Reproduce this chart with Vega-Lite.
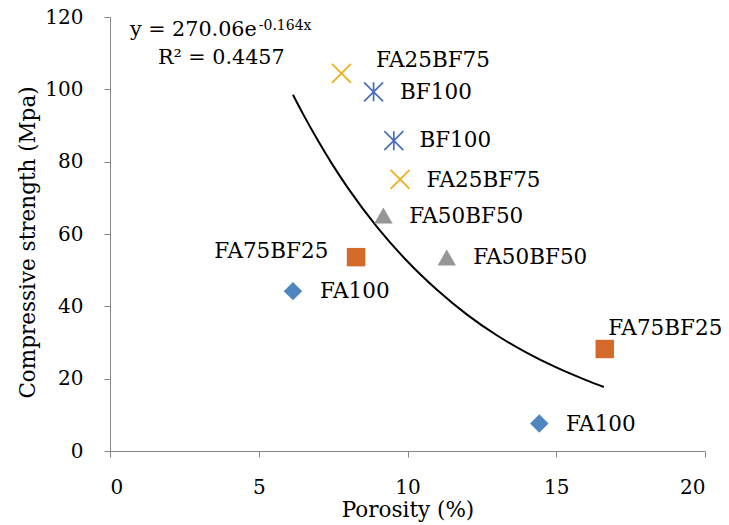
{
  "$schema": "https://vega.github.io/schema/vega-lite/v6.json",
  "width": 595,
  "height": 434,
  "autosize": {"type": "none"},
  "padding": {"left": 110, "top": 17, "right": 24, "bottom": 74},
  "background": "white",
  "datasets": {
    "pts": [
      {"series": "FA100", "porosity": 6.15, "strength": 44.2, "lx": 7.06, "ly": 44.0},
      {"series": "FA100", "porosity": 14.43, "strength": 7.6, "lx": 15.33, "ly": 7.2},
      {"series": "FA75BF25", "porosity": 8.27, "strength": 53.6, "lx": 7.34, "ly": 55.1},
      {"series": "FA75BF25", "porosity": 16.63, "strength": 28.2, "lx": 16.75, "ly": 33.7},
      {"series": "FA50BF50", "porosity": 9.19, "strength": 65.1, "lx": 10.06, "ly": 64.8},
      {"series": "FA50BF50", "porosity": 11.32, "strength": 53.5, "lx": 12.21, "ly": 53.3},
      {"series": "FA25BF75", "porosity": 7.78, "strength": 104.4, "lx": 8.94, "ly": 107.8},
      {"series": "FA25BF75", "porosity": 9.75, "strength": 75.1, "lx": 10.64, "ly": 74.7},
      {"series": "BF100", "porosity": 8.86, "strength": 99.3, "lx": 9.75, "ly": 99.1},
      {"series": "BF100", "porosity": 9.54, "strength": 85.8, "lx": 10.4, "ly": 85.8}
    ],
    "trend": [
      {"porosity": 6.15, "strength": 98.5},
      {"porosity": 6.5, "strength": 93.0},
      {"porosity": 7, "strength": 85.7},
      {"porosity": 7.5, "strength": 78.9},
      {"porosity": 8, "strength": 72.7},
      {"porosity": 9, "strength": 61.7},
      {"porosity": 10, "strength": 52.4},
      {"porosity": 11, "strength": 44.5},
      {"porosity": 12, "strength": 37.7},
      {"porosity": 13, "strength": 32.0},
      {"porosity": 14, "strength": 27.2},
      {"porosity": 15, "strength": 23.1},
      {"porosity": 16, "strength": 19.6},
      {"porosity": 16.6, "strength": 17.7}
    ],
    "notes": [
      {"text": "y = 270.06e", "porosity": 0.67, "strength": 116.5, "kind": "main"},
      {"text": "-0.164x", "porosity": 5.0, "strength": 117.6, "kind": "sup"},
      {"text": "R² = 0.4457", "porosity": 1.61, "strength": 108.6, "kind": "main"}
    ]
  },
  "config": {
    "view": {"stroke": null},
    "axis": {
      "grid": false,
      "domainColor": "#868686",
      "tickColor": "#868686",
      "tickSize": 6,
      "labelFont": "DejaVu Serif",
      "labelFontSize": 20,
      "labelColor": "#000000",
      "titleFont": "DejaVu Serif",
      "titleFontWeight": "normal",
      "titleColor": "#000000",
      "titleFontSize": 21.5
    },
    "axisX": {"labelPadding": 20, "titlePadding": 2},
    "axisY": {"labelPadding": 21, "titlePadding": 5, "titleY": 225}
  },
  "layer": [
    {
      "data": {"name": "trend"},
      "mark": {"type": "line", "color": "#000000", "strokeWidth": 2, "interpolate": "monotone"},
      "encoding": {
        "x": {"field": "porosity", "type": "quantitative", "scale": {"domain": [0, 20], "nice": false}, "axis": {"values": [0, 5, 10, 15, 20], "title": "Porosity (%)"}},
        "y": {"field": "strength", "type": "quantitative", "scale": {"domain": [0, 120], "nice": false}, "axis": {"values": [0, 20, 40, 60, 80, 100, 120], "title": "Compressive strength (Mpa)"}}
      }
    },
    {
      "data": {"name": "pts"},
      "transform": [{"filter": "indexof(['FA100','FA75BF25','FA50BF50'], datum.series) >= 0"}],
      "mark": {"type": "point", "filled": true, "opacity": 1, "size": 340},
      "encoding": {
        "x": {"field": "porosity", "type": "quantitative", "title": "Porosity (%)"},
        "y": {"field": "strength", "type": "quantitative", "title": "Compressive strength (Mpa)"},
        "color": {"field": "series", "type": "nominal", "legend": null, "scale": {"domain": ["FA100", "FA75BF25", "FA50BF50", "FA25BF75", "BF100"], "range": ["#4F86C0", "#D46A2A", "#969696", "#EAB01A", "#4A6FB8"]}},
        "shape": {"field": "series", "type": "nominal", "legend": null, "scale": {"domain": ["FA100", "FA75BF25", "FA50BF50", "FA25BF75", "BF100"], "range": ["diamond", "square", "triangle-up", "M-1,-1L1,1M1,-1L-1,1", "M-1,-1L1,1M1,-1L-1,1M0,-1L0,1"]}}
      }
    },
    {
      "data": {"name": "pts"},
      "transform": [{"filter": "indexof(['FA25BF75','BF100'], datum.series) >= 0"}],
      "mark": {"type": "point", "filled": false, "opacity": 1, "size": 361, "strokeWidth": 1.75},
      "encoding": {
        "x": {"field": "porosity", "type": "quantitative", "title": "Porosity (%)"},
        "y": {"field": "strength", "type": "quantitative", "title": "Compressive strength (Mpa)"},
        "color": {"field": "series", "type": "nominal", "legend": null},
        "shape": {"field": "series", "type": "nominal", "legend": null}
      }
    },
    {
      "data": {"name": "pts"},
      "transform": [{"filter": "datum.lx > datum.porosity"}],
      "mark": {"type": "text", "align": "left", "baseline": "middle", "font": "DejaVu Serif", "fontSize": 21.5, "color": "#000000"},
      "encoding": {
        "x": {"field": "lx", "type": "quantitative", "title": "Porosity (%)"},
        "y": {"field": "ly", "type": "quantitative", "title": "Compressive strength (Mpa)"},
        "text": {"field": "series"}
      }
    },
    {
      "data": {"name": "pts"},
      "transform": [{"filter": "datum.lx < datum.porosity"}],
      "mark": {"type": "text", "align": "right", "baseline": "middle", "font": "DejaVu Serif", "fontSize": 21.5, "color": "#000000"},
      "encoding": {
        "x": {"field": "lx", "type": "quantitative", "title": "Porosity (%)"},
        "y": {"field": "ly", "type": "quantitative", "title": "Compressive strength (Mpa)"},
        "text": {"field": "series"}
      }
    },
    {
      "data": {"name": "notes"},
      "transform": [{"filter": "datum.kind == 'main'"}],
      "mark": {"type": "text", "align": "left", "baseline": "middle", "font": "DejaVu Serif", "fontSize": 20.7, "color": "#000000"},
      "encoding": {
        "x": {"field": "porosity", "type": "quantitative", "title": "Porosity (%)"},
        "y": {"field": "strength", "type": "quantitative", "title": "Compressive strength (Mpa)"},
        "text": {"field": "text"}
      }
    },
    {
      "data": {"name": "notes"},
      "transform": [{"filter": "datum.kind == 'sup'"}],
      "mark": {"type": "text", "align": "left", "baseline": "middle", "font": "DejaVu Serif", "fontSize": 14, "color": "#000000"},
      "encoding": {
        "x": {"field": "porosity", "type": "quantitative", "title": "Porosity (%)"},
        "y": {"field": "strength", "type": "quantitative", "title": "Compressive strength (Mpa)"},
        "text": {"field": "text"}
      }
    }
  ]
}
